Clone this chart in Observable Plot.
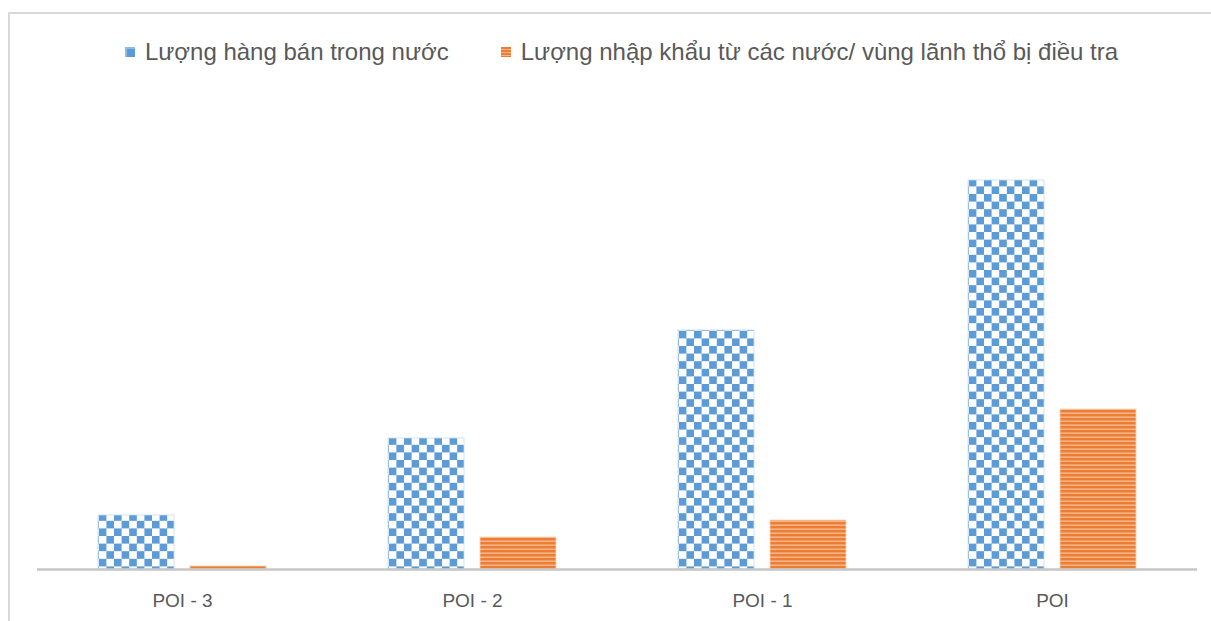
<!DOCTYPE html>
<html>
<head>
<meta charset="utf-8">
<script src="https://cdn.jsdelivr.net/npm/d3@7"></script>
<script src="https://cdn.jsdelivr.net/npm/@observablehq/plot@0.6"></script>
<style>
  html, body { margin: 0; padding: 0; background: #fff; width: 1211px; height: 621px; overflow: hidden; }
  #frame { position: absolute; left: 8px; top: 12px; width: 1300px; height: 700px; border: 2px solid #d9d9d9; box-sizing: border-box; }
  #legend { position: absolute; left: 0; top: 38px; width: 1211px; display: flex; justify-content: center; gap: 52px;
            padding-left: 32px; box-sizing: border-box; font-family: "Liberation Sans", Arial, sans-serif; font-size: 24px; color: #595959; }
  .item { display: flex; align-items: center; gap: 10px; white-space: nowrap; }
  .swatch { width: 10px; height: 10px; }
  .sw-domestic { background: #5b9bd5; box-shadow: inset 2px 2px 0 #8fbbe6; }
  .sw-import { background: repeating-linear-gradient(to bottom, #ed7d31 0 2px, #f6b386 2px 3px); }
  #chart { position: absolute; left: 0; top: 80px; }
</style>
</head>
<body>
<div id="frame"></div>
<div id="legend"></div>
<div id="chart"></div>
<script>
// Periods on the horizontal axis
const categories = ["POI - 3", "POI - 2", "POI - 1", "POI"];
// Two series shown side by side in each period
const series = ["Lượng hàng bán trong nước", "Lượng nhập khẩu từ các nước/ vùng lãnh thổ bị điều tra"];
// Relative volumes (no value axis is shown)
const domestic = [54, 131, 239, 389];
const imports = [3, 32, 49, 160];

const rows = categories.flatMap((c, i) => [
  {period: c, series: series[0], value: domestic[i]},
  {period: c, series: series[1], value: imports[i]}
]);

// Legend above the chart
const legend = d3.select("#legend");
series.forEach((s, i) => {
  const item = legend.append("div").attr("class", "item");
  item.append("div").attr("class", "swatch " + (i === 0 ? "sw-domestic" : "sw-import"));
  item.append("span").text(s);
});

const chart = Plot.plot({
  width: 1211,
  height: 540,
  marginLeft: 37,
  marginRight: 14,
  marginTop: 39,
  marginBottom: 51,
  style: {fontFamily: "'Liberation Sans', Arial, sans-serif", fontSize: "19px", color: "#595959", background: "transparent", overflow: "visible"},
  fx: {domain: categories, padding: 0, label: null, axis: null},
  x: {domain: series, paddingInner: 0.174, paddingOuter: 0.663, axis: null},
  y: {domain: [0, 450], axis: null},
  marks: [
    Plot.barY(rows.filter(d => d.series === series[0]), {
      fx: "period", x: "series", y: "value", fill: "url(#checker)", stroke: "#c5dcf0", strokeWidth: 0.8
    }),
    Plot.barY(rows.filter(d => d.series === series[1]), {
      fx: "period", x: "series", y: "value", fill: "url(#stripes)", stroke: "#f9d2b6", strokeWidth: 0.8
    }),
    Plot.ruleY([0], {stroke: "#c6c6c6", strokeWidth: 2.5}),
    Plot.axisFx({anchor: "bottom", tickSize: 0, tickPadding: 24, label: null, fontSize: 19})
  ]
});

// Fill patterns: blue checkerboard and orange horizontal stripes
const defs = d3.select(chart).insert("defs", ":first-child");
const checker = defs.append("pattern").attr("id", "checker")
  .attr("patternUnits", "userSpaceOnUse").attr("width", 15.2).attr("height", 15.2);
checker.append("rect").attr("width", 15.2).attr("height", 15.2).attr("fill", "#ffffff");
checker.append("rect").attr("width", 7.6).attr("height", 7.6).attr("fill", "#5b9bd5");
checker.append("rect").attr("x", 7.6).attr("y", 7.6).attr("width", 7.6).attr("height", 7.6).attr("fill", "#5b9bd5");

const stripes = defs.append("pattern").attr("id", "stripes")
  .attr("patternUnits", "userSpaceOnUse").attr("y", 2).attr("width", 8).attr("height", 4);
stripes.append("rect").attr("width", 8).attr("height", 4).attr("fill", "#f6b386");
stripes.append("rect").attr("width", 8).attr("height", 2.4).attr("fill", "#ed7d31");

const soften = defs.append("filter").attr("id", "soften");
soften.append("feGaussianBlur").attr("stdDeviation", 0.45);
d3.select(chart).selectAll("g[aria-label='bar']").attr("filter", "url(#soften)");

document.getElementById("chart").append(chart);
</script>
</body>
</html>
